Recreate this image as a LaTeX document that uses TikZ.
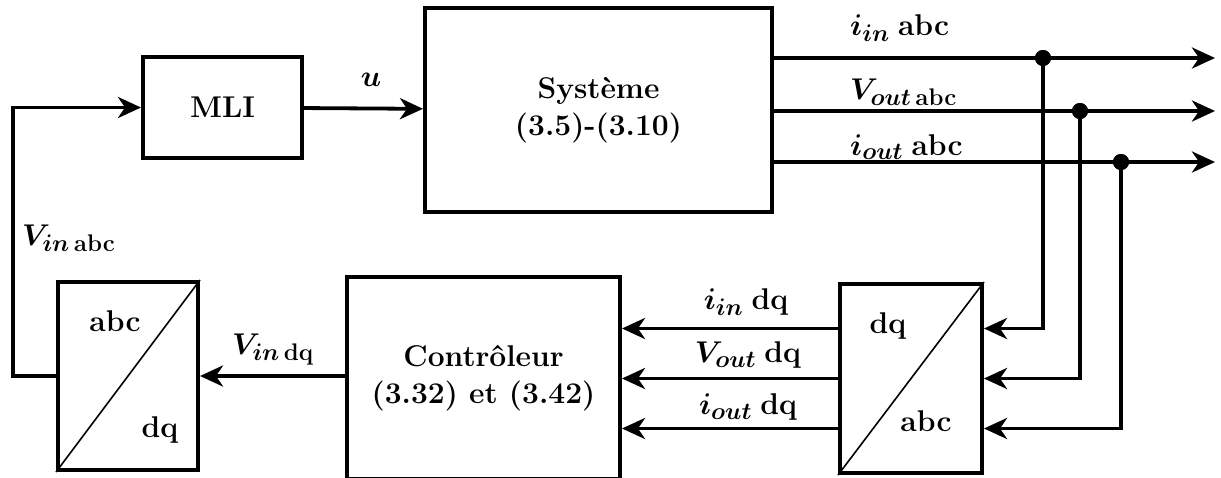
\RequirePackage{fix-cm}
\documentclass[tikz,border=0pt]{standalone}
\usepackage{amsmath}
\usepackage{fontspec}
\usetikzlibrary{arrows.meta,positioning,calc}
\DeclareMathSizes{30}{30}{24}{18}
\tikzset{
  blk/.style={draw, line width=4pt, inner sep=0pt},
  sig/.style={line width=3.8pt, -{Stealth[length=23pt,width=21pt,inset=7pt]}},
  dot/.style={circle, fill, inner sep=0pt, minimum size=16pt},
  lbl/.style={font=\fontsize{30}{34}\selectfont\bfseries\boldmath, inner sep=0pt},
}
\begin{document}
\begin{tikzpicture}[x=1pt,y=-1pt]
    \useasboundingbox (0,0) rectangle (1221,477);
    % blocks
    \node[blk, lbl, minimum width=159pt, minimum height=101pt] (mli) at (222.5,107.5) {MLI};
    \node[blk, lbl, minimum width=347pt, minimum height=204pt, align=center] (sys) at (598.5,110) {Système\\[3pt](3.5)-(3.10)};
    \node[blk, lbl, minimum width=273pt, minimum height=202pt, align=center] (ctrl) at (483.5,378) {Contrôleur\\[3pt](3.32) et (3.42)};
    \node[blk, minimum width=142pt, minimum height=189pt] (dq) at (911,378.5) {};
    \node[blk, minimum width=140pt, minimum height=188pt] (abc) at (128,376) {};
    \draw[line width=1.6pt] (dq.south west) -- (dq.north east);
    \draw[line width=1.6pt] (abc.south west) -- (abc.north east);
    \node[lbl] (dqa) at (888,326) {dq};
    \node[lbl] (dqb) at (926,421) {abc};
    \node[lbl] (abca) at (115,321) {abc};
    \node[lbl] (abcb) at (160,430) {dq};
    % signal labels
    \node[lbl] (lu) at (371,80) {$u$};
    \node[lbl, anchor=west] (lvin) at (22,238) {$V_{in\,\mathbf{abc}}$};
    \node[lbl, anchor=west] (lvindq) at (232,350) {$V_{in\,\mathbf{dq}}$};
    \node[lbl, anchor=west] (l1) at (850,28) {$i_{in}$\;abc};
    \node[lbl, anchor=west] (l2) at (850,92) {$V_{out\,\mathbf{abc}}$};
    \node[lbl, anchor=west] (l3) at (850,147) {$i_{out}$\;abc};
    \node[lbl] (l4) at (746,302) {$i_{in}$\;dq};
    \node[lbl] (l5) at (748,355) {$V_{out}$\;dq};
    \node[lbl] (l6) at (748,407) {$i_{out}$\;dq};
    % connectors
    \draw[sig] (mli) -- (sys);
    \draw[sig] (ctrl.west |- abc) -- (abc.east);
    \coordinate (fb) at (13,376);
    \draw[sig] (abc.west) -- (fb) |- (mli.west);
    \foreach \i/\tx/\dy in {1/1043/-52, 2/1080/1, 3/1121/52} {
      \coordinate (o\i) at ($(sys.east)+(0,\dy)$);
      \coordinate (e\i) at (1215,0 |- o\i);
      \coordinate (r\i) at ($(dq.east)+(0,{(\i-2)*50})$);
      \node[dot] (t\i) at (\tx,0 |- o\i) {};
      \draw[sig] (o\i) -- (e\i);
      \draw[sig] (t\i.center) |- (r\i);
      \draw[sig] (r\i -| dq.west) -- (r\i -| ctrl.east);
      \node[dot] at (t\i) {};
    }
\end{tikzpicture}
\end{document}
